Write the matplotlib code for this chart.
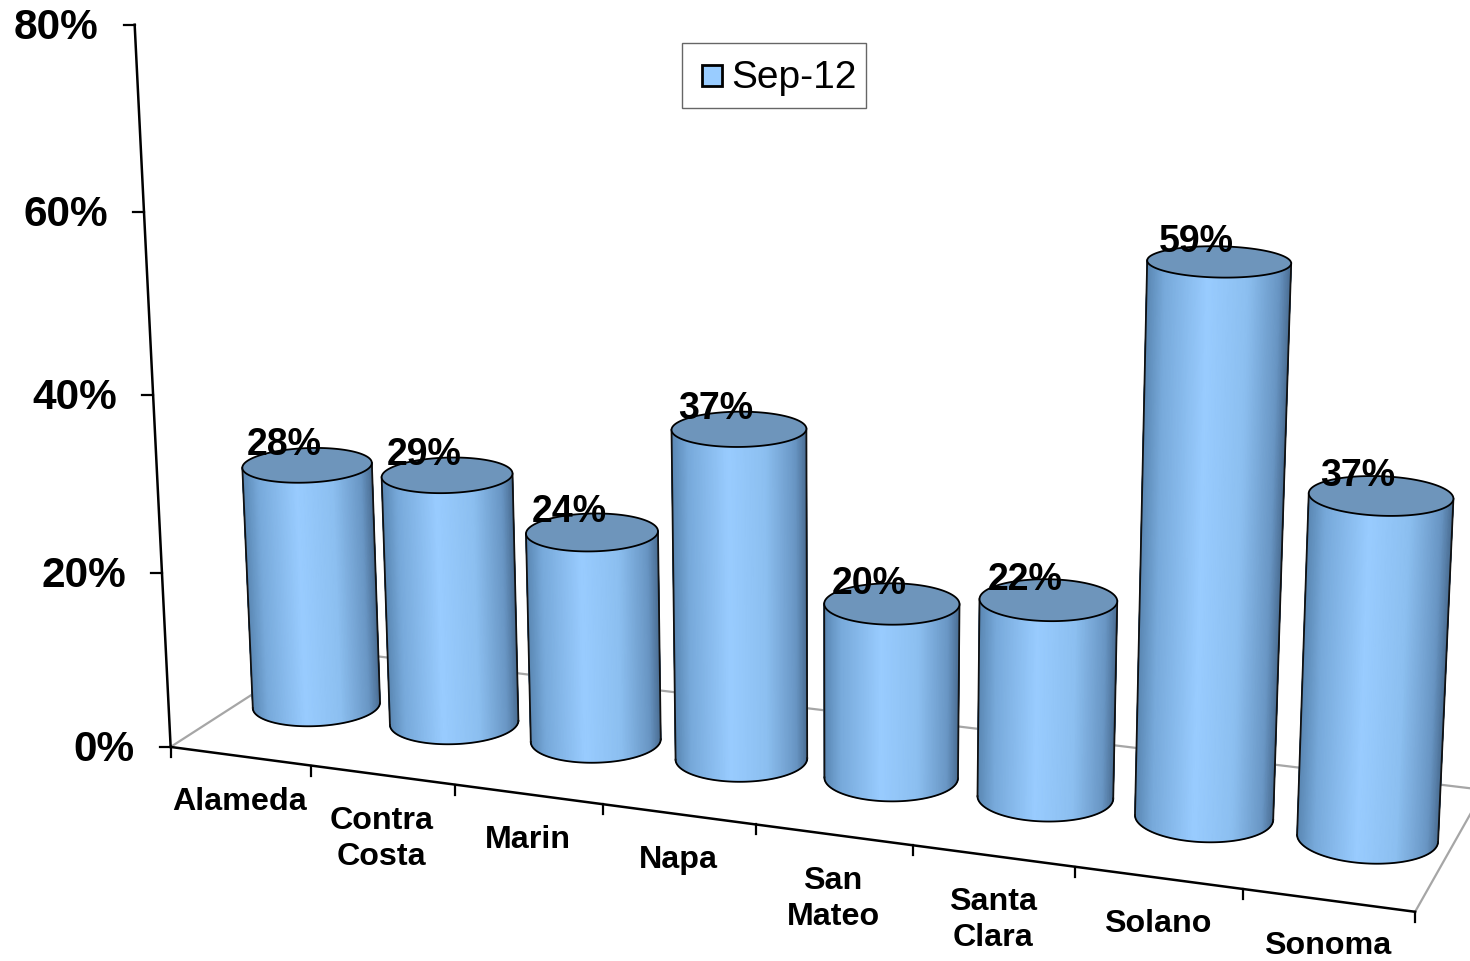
import numpy as np
import matplotlib
matplotlib.use("Agg")
import matplotlib.pyplot as plt
from matplotlib.colors import LinearSegmentedColormap
from matplotlib.legend_handler import HandlerPatch
from matplotlib.patches import Patch, Polygon, Rectangle

plt.rcParams['font.family'] = ['Liberation Sans', 'DejaVu Sans']

categories = ["Alameda", "Contra\nCosta", "Marin", "Napa", "San\nMateo", "Santa\nClara", "Solano", "Sonoma"]
values = [28.3, 28.8, 24.0, 37.2, 19.6, 21.9, 59.3, 36.6]
y_ticks = [0, 20, 40, 60, 80]
series_name = "Sep-12"

# calibration of the 3d view: (s along categories, d depth, h percent) -> pixel
view_points = [
    (0, 0, 0, 171, 746), (0, 0, 20, 162, 573), (0, 0, 40, 153, 395), (0, 0, 60, 144, 212), (0, 0, 80, 135, 25),
    (2, 0, 0, 455, 785), (4, 0, 0, 755, 825), (6, 0, 0, 1076, 868), (8, 0, 0, 1416, 912),
    (0, 1, 0, 322, 650), (8, 1, 0, 1485, 790),
    (0.5, .5, 0, 316, 708), (1.5, .5, 0, 454, 722), (2.5, .5, 0, 596, 740), (3.5, .5, 0, 741, 758),
    (4.5, .5, 0, 891, 777), (5.5, .5, 0, 1045, 797), (6.5, .5, 0, 1204, 814), (7.5, .5, 0, 1367, 835),
    (0.5, .5, 28, 308, 465), (1.5, .5, 29, 447, 475), (2.5, .5, 24, 592, 532), (3.5, .5, 37, 739, 429),
    (4.5, .5, 20, 892, 605), (5.5, .5, 22, 1048, 598), (6.5, .5, 59, 1219, 262), (7.5, .5, 37, 1380, 497),
]

def fit_view(points):
    rows, rhs = [], []
    for s, d, h, x, y in points:
        rows.append([1, s, d, h, 0, 0, 0, 0, -x*s, -x*d, -x*h])
        rhs.append(x)
        rows.append([0, 0, 0, 0, 1, s, d, h, -y*s, -y*d, -y*h])
        rhs.append(y)
    return np.linalg.lstsq(np.array(rows, float), np.array(rhs, float), rcond=None)[0]

m = fit_view(view_points)

def project(s, d, h):
    s, d, h = np.asarray(s, float), np.asarray(d, float), np.asarray(h, float)
    w = 1 + m[8]*s + m[9]*d + m[10]*h
    return (m[0] + m[1]*s + m[2]*d + m[3]*h)/w, (m[4] + m[5]*s + m[6]*d + m[7]*h)/w

def legend_square(legend, orig_handle, xdescent, ydescent, width, height, fontsize):
    # square sits at the right of the handle box, leaves the wider left margin of the original
    return Rectangle((width - xdescent - 15, (height - 15)/2 - ydescent), 15, 15)

bar_cmap = LinearSegmentedColormap.from_list("bar", [
    (0, "#5a87b3"), (.12, "#77a9da"), (.42, "#99ccff"), (.7, "#8cbff0"), (.92, "#6996c4"), (1, "#4c7096")])
top_color = "#6e95bb"
r_s, r_d = 0.415, 0.2

fig = plt.figure(figsize=(14.7, 9.61), dpi=100)
ax = fig.add_axes([0, 0, 1, 1])
ax.set_xlim(0, 1470)
ax.set_ylim(961, 0)
ax.axis("off")

# floor
fx, fy = project([8, 8, 0, 0], [0, 1, 1, 0], [0, 0, 0, 0])
ax.plot(fx, fy, color="#a6a6a6", lw=1.6, zorder=1)

# axes
xx, yy = project([0, 0], [0, 0], [0, 80])
ax.plot(xx, yy, color="black", lw=1.8, zorder=2)
xx, yy = project([0, 8], [0, 0], [0, 0])
ax.plot(xx, yy, color="black", lw=1.8, zorder=2)

for v in y_ticks:
    tx, ty = project(0, 0, v)
    ax.plot([tx - 11, tx], [ty, ty], color="black", lw=1.6, zorder=2)
    ax.text(tx - 36, ty + 3, f"{v}%", ha="right", va="center", fontsize=30.5, fontweight="bold")

for i in range(len(categories) + 1):
    tx, ty = project(i, 0, 0)
    ax.plot([tx, tx], [ty, ty + 10], color="black", lw=1.6, zorder=2)

for i, name in enumerate(categories):
    tx, ty = project(i + .5, 0, 0)
    ax.text(tx - 1, ty + 31, name, ha="center", va="top", fontsize=23.2, fontweight="bold",
            linespacing=1.26, zorder=6)

t = np.linspace(0, 2*np.pi, 241)
for i, v in enumerate(values):
    cs = i + .5
    top_x, top_y = project(cs + r_s*np.cos(t), .5 + r_d*np.sin(t), v)
    low_x, low_y = project(cs + r_s*np.cos(t), .5 + r_d*np.sin(t), 0)

    # front half of the cylinder, between the outermost points of the top circle
    a, b = np.argmin(top_x[:-1]), np.argmax(top_x[:-1])
    idx = np.arange(a, b + 241 if b < a else b + 1) % 240
    xs = np.vstack([low_x[idx], top_x[idx]])
    ys = np.vstack([low_y[idx], top_y[idx]])
    shade = (xs - xs.min(axis=1, keepdims=True))/(xs.max(axis=1, keepdims=True) - xs.min(axis=1, keepdims=True))
    ax.pcolormesh(xs, ys, shade, cmap=bar_cmap, vmin=0, vmax=1, shading="gouraud", zorder=3 + i*.01)

    ax.plot(low_x[idx], low_y[idx], color="black", lw=1.3, zorder=3.5)
    ax.plot(xs[:, 0], ys[:, 0], color="#111111", lw=1.3, zorder=3.5)
    ax.plot(xs[:, -1], ys[:, -1], color="#111111", lw=1.3, zorder=3.5)
    ax.add_patch(Polygon(np.column_stack([top_x, top_y]), closed=True, facecolor=top_color,
                         edgecolor="black", lw=1.3, zorder=3.6))

    cx, cy = project(cs, .5, v)
    ax.text(cx - 23, cy - 20, f"{v:.0f}%", ha="center", va="center", fontsize=27, fontweight="bold", zorder=7)

handle = Patch(facecolor="#99ccff", edgecolor="black", lw=2)
ax.legend(handles=[handle], labels=[series_name], loc="upper left", bbox_to_anchor=(681.5/1470, 1 - 43/961),
          borderaxespad=0, fancybox=False, framealpha=1, edgecolor="#666666", fontsize=28,
          handlelength=.81, handleheight=1.46, handletextpad=.23, borderpad=.24,
          handler_map={Patch: HandlerPatch(patch_func=legend_square)})

fig.savefig("out.png", dpi=100)
